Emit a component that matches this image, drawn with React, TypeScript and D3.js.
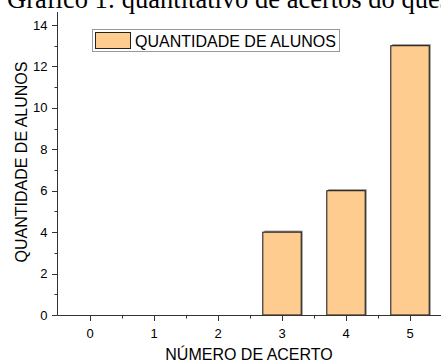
import React from "react";
import * as d3 from "d3";

const categories = [0, 1, 2, 3, 4, 5];
const values = [0, 0, 0, 4, 6, 13];
const yTicks = [0, 2, 4, 6, 8, 10, 12, 14];
const yMinor = [1, 3, 5, 7, 9, 11, 13];
const xMinor = [0.5, 1.5, 2.5, 3.5, 4.5];
const title = "Gráfico 1: quantitativo de acertos do questionário";
const seriesName = "QUANTIDADE DE ALUNOS";
const xTitle = "NÚMERO DE ACERTO";
const yTitle = "QUANTIDADE DE ALUNOS";

export default function App() {
  const W = 441, H = 361;
  const x = d3.scaleLinear().domain([-0.5, 5.5]).range([58, 442]);
  const y = d3.scaleLinear().domain([0, 14]).range([315, 25]);
  const yTop = y(14.63);
  const barW = 0.6;
  const font = "Liberation Sans, Arial, sans-serif";
  const fill = "#FFCC8F";
  const axisColor = "#333";
  return (
    <svg width={W} height={H} style={{ position: "absolute", left: 0, top: 0 }}>
      <rect width={W} height={H} fill="#fff" />
      <text x={7} y={7.5} fontFamily="Liberation Serif, Times New Roman, serif" fontSize={26.5} fill="#000">
        {title}
      </text>
      {categories.map((c, i) =>
        values[i] > 0 ? (
          <g key={c}>
            <rect
              x={x(c - barW / 2) + 1.5}
              y={y(values[i]) - 1.5}
              width={x(c + barW / 2) - x(c - barW / 2)}
              height={y(0) - y(values[i]) + 1.5}
              fill="#8a8a8a"
            />
            <rect
              x={x(c - barW / 2)}
              y={y(values[i])}
              width={x(c + barW / 2) - x(c - barW / 2)}
              height={y(0) - y(values[i])}
              fill={fill}
              stroke="#111"
              strokeWidth={1}
            />
          </g>
        ) : null
      )}
      {/* axes */}
      <line x1={57.5} x2={57.5} y1={yTop} y2={315.5} stroke={axisColor} strokeWidth={1} />
      <line x1={57.5} x2={W} y1={315.5} y2={315.5} stroke={axisColor} strokeWidth={1} />
      {yTicks.map((t) => (
        <g key={"y" + t}>
          <line x1={52} x2={57.5} y1={Math.round(y(t)) + 0.5} y2={Math.round(y(t)) + 0.5} stroke={axisColor} />
          <text x={47.5} y={y(t) + 4.5} textAnchor="end" fontFamily={font} fontSize={13} fill="#000">
            {t}
          </text>
        </g>
      ))}
      {yMinor.map((t) => (
        <line key={"ym" + t} x1={54.5} x2={57.5} y1={Math.round(y(t)) + 0.5} y2={Math.round(y(t)) + 0.5} stroke={axisColor} />
      ))}
      {categories.map((c) => (
        <g key={"x" + c}>
          <line x1={Math.round(x(c)) + 0.5} x2={Math.round(x(c)) + 0.5} y1={315.5} y2={321} stroke={axisColor} />
          <text x={x(c)} y={337.5} textAnchor="middle" fontFamily={font} fontSize={13} fill="#000">
            {c}
          </text>
        </g>
      ))}
      {xMinor.map((c) => (
        <line key={"xm" + c} x1={Math.round(x(c)) + 0.5} x2={Math.round(x(c)) + 0.5} y1={315.5} y2={318.5} stroke={axisColor} />
      ))}
      {/* legend */}
      <rect x={92.5} y={29.5} width={247} height={22} fill="#fff" stroke="#999" strokeWidth={1} />
      <rect x={95.5} y={32.5} width={35} height={16} fill={fill} stroke="#222" strokeWidth={1} />
      <text x={135} y={46.5} fontFamily={font} fontSize={16} fill="#000">
        {seriesName}
      </text>
      {/* axis titles */}
      <text x={249} y={359.5} textAnchor="middle" fontFamily={font} fontSize={16} fill="#000">
        {xTitle}
      </text>
      <text
        transform={`translate(27, 162) rotate(-90)`}
        textAnchor="middle"
        fontFamily={font}
        fontSize={16}
        fill="#000"
      >
        {yTitle}
      </text>
    </svg>
  );
}
